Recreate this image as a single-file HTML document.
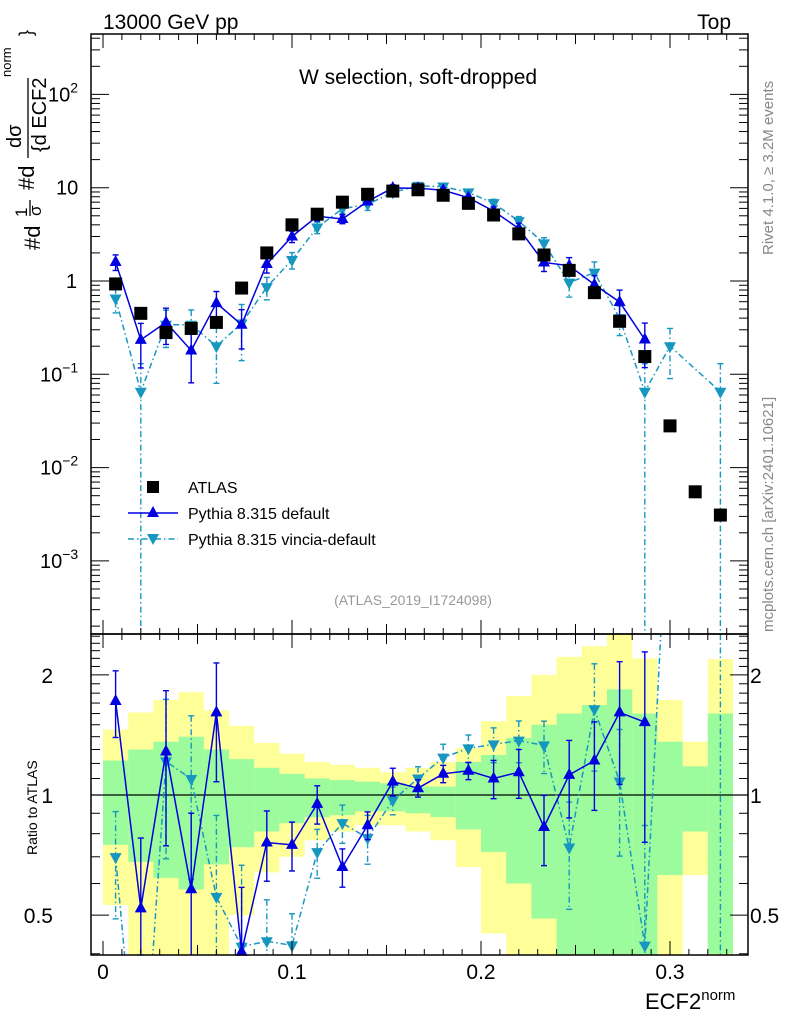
<!DOCTYPE html>
<html><head><meta charset="utf-8"><style>
html,body{margin:0;padding:0;background:#fff;width:786px;height:1024px;overflow:hidden;}
svg{display:block;font-family:"Liberation Sans",Arial,sans-serif;}
</style></head><body>
<svg id="chart" width="786" height="1024" viewBox="0 0 786 1024">
<g id="bands"></g>
<g id="marks"></g>
<g id="axes"></g>
<text x="103" y="29" font-size="21">13000 GeV pp</text>
<text x="731" y="29" font-size="21" text-anchor="end">Top</text>
<text x="418" y="84" font-size="21" text-anchor="middle">W selection, soft-dropped</text>
<text x="413" y="605" font-size="14" fill="#999" text-anchor="middle">(ATLAS_2019_I1724098)</text>
<text transform="translate(773,255) rotate(-90)" font-size="15" fill="#888">Rivet 4.1.0, ≥ 3.2M events</text>
<text transform="translate(773,632) rotate(-90)" font-size="15" fill="#888">mcplots.cern.ch [arXiv:2401.10621]</text>
<g font-size="22">
<text transform="translate(40,250) rotate(-90)">#d</text>
<text transform="translate(27,217) rotate(-90)" font-size="17">1</text>
<line x1="30" y1="200" x2="30" y2="216" stroke="#000" stroke-width="1.3"/>
<text transform="translate(41,216) rotate(-90)" font-size="17">σ</text>
<text transform="translate(34,190) rotate(-90)">#d</text>
<text transform="translate(21,148) rotate(-90)" font-size="20">dσ</text>
<line x1="28" y1="78" x2="28" y2="158" stroke="#000" stroke-width="1.3"/>
<text transform="translate(46,152) rotate(-90)" font-size="20">{d ECF2</text>
<text transform="translate(11,77) rotate(-90)" font-size="13">norm</text>
<text transform="translate(32,36) rotate(-90)" font-size="18">}</text>
</g>
<text transform="translate(37,855) rotate(-90)" font-size="14">Ratio to ATLAS</text>
<text x="645" y="1009" font-size="22">ECF2<tspan font-size="15" dy="-9">norm</tspan></text>
<g font-size="16">
<g><rect x="147" y="481" width="12" height="12" fill="#000"/><text x="188" y="493">ATLAS</text></g>
<g><line x1="128" y1="513" x2="178" y2="513" stroke="#0000e0" stroke-width="1.5"/><polygon points="153,506 159,517 147,517" fill="#0000e0"/><text x="188" y="519">Pythia 8.315 default</text></g>
<g><line x1="128" y1="539" x2="178" y2="539" stroke="#1797c0" stroke-width="1.5" stroke-dasharray="6,3,1.5,3"/><polygon points="147,534 159,534 153,545" fill="#1797c0"/><text x="188" y="545">Pythia 8.315 vincia-default</text></g>
</g>
</svg>
<script>
const atlas=[0.93,0.45,0.28,0.31,0.36,0.84,2.0,4.0,5.2,7.0,8.5,9.2,9.5,8.3,6.8,5.1,3.2,1.9,1.3,0.75,0.37,0.155,0.028,0.0055,0.0031];
const pyDefault=[1.60,0.234,0.36,0.18,0.58,0.34,1.52,3.0,4.94,4.62,7.14,9.94,9.88,9.38,7.82,5.61,3.65,1.58,1.46,0.915,0.596,0.236];
const pyDefaultErr=[0.19,0.5,0.42,0.55,0.33,0.45,0.2,0.14,0.11,0.11,0.08,0.08,0.05,0.05,0.05,0.11,0.14,0.2,0.22,0.25,0.34,0.5];
const pyVincia=[0.65,0.065,0.34,0.34,0.20,0.35,0.86,1.68,3.74,5.95,6.63,8.92,10.45,10.3,8.9,6.83,4.38,2.53,0.96,1.23,0.40,0.065,0.2,null,0.065];
const pyVinciaErr=[0.3,1.0,0.43,0.44,0.6,0.6,0.27,0.2,0.14,0.11,0.14,0.08,0.07,0.08,0.08,0.1,0.12,0.15,0.3,0.3,0.35,1.0,0.55,null,1.0];
const bandYellowHi=[1.46,1.61,1.73,1.81,1.63,1.49,1.35,1.27,1.21,1.19,1.17,1.14,1.17,1.21,1.31,1.53,1.77,2.0,2.22,2.36,3.0,2.2,1.73,1.36,2.19];
const bandGreenHi=[1.22,1.30,1.36,1.40,1.30,1.23,1.17,1.13,1.10,1.09,1.08,1.07,1.05,1.05,1.21,1.26,1.39,1.50,1.60,1.68,1.84,1.6,1.36,1.18,1.60];
const bandGreenLo=[0.75,0.68,0.62,0.58,0.67,0.74,0.81,0.85,0.88,0.89,0.91,0.91,0.90,0.88,0.82,0.72,0.60,0.49,0.3,0.3,0.3,0.3,0.63,0.81,0.40];
const bandYellowLo=[0.53,0.3,0.3,0.3,0.3,0.50,0.64,0.70,0.77,0.81,0.84,0.84,0.81,0.77,0.66,0.45,0.3,0.3,0.3,0.3,0.3,0.3,0.3,0.63,0.3];
const xTickLabels=["0","0.1","0.2","0.3"];
const xTickValues=[0,0.1,0.2,0.3];
const yMainExp=[-3,-2,-1,0,1,2];
const yMainLabels=["10","10","10","1","10","10"];
const yMainSup=["−3","−2","−1","","","2"];
const ratioTicks=[0.5,1,2];
const ratioTickLabels=["0.5","1","2"];
const binWidth=1/75;

const NS="http://www.w3.org/2000/svg";
const FL=91,FR=748,MT=34,MB=634,RT=634,RB=955;
const X=v=>103+v*1890;
const Y=v=>281-93.3*Math.log10(v);
const R=v=>795-399*Math.log10(v);
const clampM=y=>Math.max(MT,Math.min(MB,y));
const clampR=y=>Math.max(RT,Math.min(RB,y));
function mk(tag,attrs,parent){const e=document.createElementNS(NS,tag);for(const k in attrs)e.setAttribute(k,attrs[k]);parent.appendChild(e);return e;}
const bands=document.getElementById('bands'),marks=document.getElementById('marks'),axes=document.getElementById('axes');

[[bandYellowHi,bandYellowLo,'#ffff9a','yellow'],[bandGreenHi,bandGreenLo,'#9cfb9c','green']].forEach(([hi,lo,col,nm])=>{
  hi.forEach((h,i)=>{
    const x0=X(i*binWidth),x1=X((i+1)*binWidth);
    const y0=clampR(R(h)),y1=clampR(R(lo[i]));
    const r=mk('rect',{x:x0,y:y0,width:x1-x0,height:y1-y0,fill:col},bands);
    
    
  });
});
mk('line',{x1:FL,x2:FR,y1:R(1),y2:R(1),stroke:'#000','stroke-width':1.3},marks);

function cx(i){return X((i+0.5)*binWidth);}
function errBar(x,yh,yl,col,dash,g,capTop,capBot){
  const l=mk('line',{x1:x,x2:x,y1:yh,y2:yl,stroke:col,'stroke-width':1.4},g);
  if(dash)l.setAttribute('stroke-dasharray',dash);
  if(capTop)mk('line',{x1:x-3,x2:x+3,y1:yh,y2:yh,stroke:col,'stroke-width':1.4},g);
  if(capBot)mk('line',{x1:x-3,x2:x+3,y1:yl,y2:yl,stroke:col,'stroke-width':1.4},g);
}
function tri(x,y,up,col,g){
  const p=up?`${x},${y-7} ${x+6},${y+4} ${x-6},${y+4}`:`${x-6},${y-4} ${x+6},${y-4} ${x},${y+7}`;
  return mk('polygon',{points:p,fill:col},g);
}
function drawSeries(vals,errs,col,dash,up,name){
  const gm=mk('g',{},marks);
  const gr=mk('g',{},marks);
  let pm=[],pr=[];
  vals.forEach((v,i)=>{
    if(v==null)return;
    const x=cx(i),e=errs[i];
    const y=Y(v),yh=clampM(Y(v*(1+e))),yl=e>=1?MB:clampM(Y(v*(1-e)));
    errBar(x,yh,yl,col,dash,gm,true,e<1);
    const t=tri(x,y,up,col,gm);
    
    
    pm.push(`${x},${y}`);
    const r=v/atlas[i];
    const ry=R(r);
    const rh=clampR(R(r*(1+e))),rl=e>=1?RB:clampR(R(r*(1-e)));
    errBar(x,rh,rl,col,dash,gr,rh>RT,rl<RB&&e<1);
    if(ry>=RT-1&&ry<=RB+1){const tr=tri(x,ry,up,col,gr);
      
      }
    pr.push(`${x},${ry}`);
  });
  const lm=mk('polyline',{points:pm.join(' '),fill:'none',stroke:col,'stroke-width':1.5},gm);
  if(dash)lm.setAttribute('stroke-dasharray',dash);
  const cp=mk('clipPath',{id:'clip'+name},gr);mk('rect',{x:FL,y:RT,width:FR-FL,height:RB-RT},cp);
  const lr=mk('polyline',{points:pr.join(' '),fill:'none',stroke:col,'stroke-width':1.5,'clip-path':`url(#clip${name})`},gr);
  if(dash)lr.setAttribute('stroke-dasharray',dash);
}
drawSeries(pyVincia,pyVinciaErr,'#1797c0','6,3,1.5,3',false,'pythia-vincia');
drawSeries(pyDefault,pyDefaultErr,'#0000e0',null,true,'pythia-default');
atlas.forEach((v,i)=>{
  const r=mk('rect',{x:cx(i)-6.5,y:Y(v)-6.5,width:13,height:13,fill:'#000'},marks);
  
  
});

[[MT,MB],[RT,RB]].forEach(([t,b])=>{mk('rect',{x:FL,y:t,width:FR-FL,height:b-t,fill:'none',stroke:'#000','stroke-width':1.5},axes);});
for(let k=0;k<=33;k++){
  const x=X(k*0.01);const big=k%10==0,mid=k%5==0;
  const L=big?14:(mid?10:6);
  [[MT,1],[MB,-1],[RT,1],[RB,-1]].forEach(([y,s])=>mk('line',{x1:x,x2:x,y1:y,y2:y+s*L,stroke:'#000','stroke-width':1},axes));
}
xTickValues.forEach((v,i)=>{
  const t=mk('text',{x:X(v),y:979,'font-size':21,'text-anchor':'middle'},axes);t.textContent=xTickLabels[i];
  
  
});
for(let e=-4;e<=2;e++){for(let m=1;m<=9;m++){const v=m*Math.pow(10,e);const y=Y(v);if(y<MT||y>MB)continue;const L=m==1?18:9;
  mk('line',{x1:FL,x2:FL+L,y1:y,y2:y,stroke:'#000'},axes);mk('line',{x1:FR,x2:FR-L,y1:y,y2:y,stroke:'#000'},axes);}}
yMainExp.forEach((e,i)=>{
  const y=Y(Math.pow(10,e))+7;
  const t=mk('text',{x:e===0?66:(e===1?56:(e===2?48:40)),y:y,'font-size':20},axes);t.textContent=yMainLabels[i];
  if(yMainSup[i]){const s=mk('tspan',{dy:-9,'font-size':14},t);s.textContent=yMainSup[i];}
  
  
});
for(let v=0.4;v<=2.55;v+=0.1){const y=R(v);if(y<RT||y>RB)continue;const maj=[0.5,1,2].some(m=>Math.abs(m-v)<1e-6);const L=maj?18:9;
  mk('line',{x1:FL,x2:FL+L,y1:y,y2:y,stroke:'#000'},axes);mk('line',{x1:FR,x2:FR-L,y1:y,y2:y,stroke:'#000'},axes);}
ratioTicks.forEach((v,i)=>{
  const y=R(v)+8;
  const t=mk('text',{x:53,y:y,'font-size':21,'text-anchor':'end'},axes);t.textContent=ratioTickLabels[i];
  
  
  const t2=mk('text',{x:750,y:y,'font-size':21},axes);t2.textContent=ratioTickLabels[i];
  
  
});
</script>
</body></html>
